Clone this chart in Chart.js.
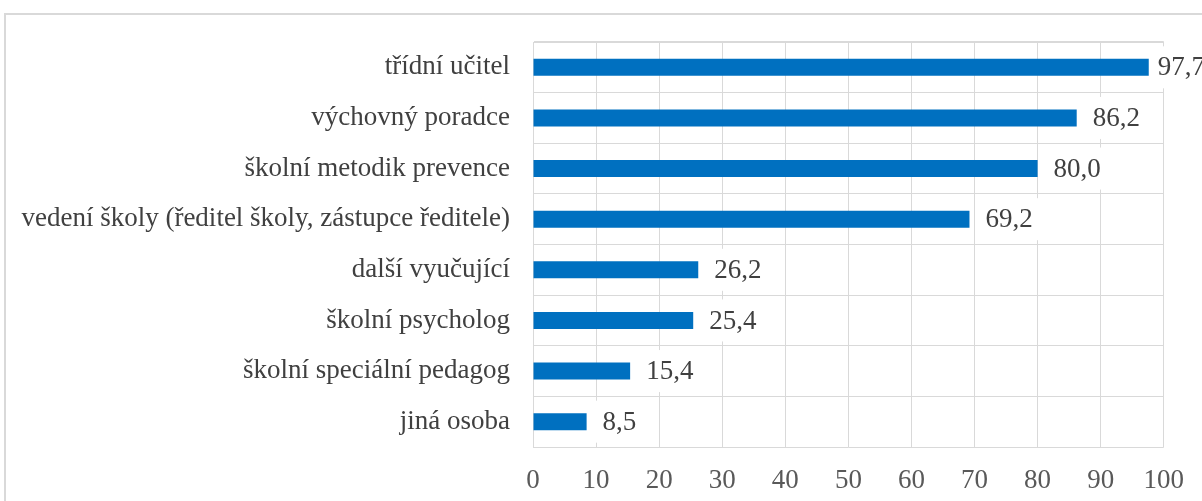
<!DOCTYPE html>
<html>
<head>
<meta charset="utf-8">
<script src="https://cdn.jsdelivr.net/npm/chart.js@4/dist/chart.umd.min.js"></script>
<style>
  html, body { margin: 0; padding: 0; background: #fff; overflow: hidden; }
  #frame { position: absolute; left: 4px; top: 13px; width: 1300px; height: 600px; border: 2px solid #d9d9d9; }
  #wrap { position: absolute; left: 0; top: 0; width: 1202px; height: 501px; }
</style>
</head>
<body>
<div id="frame"></div>
<div id="wrap"><canvas id="chart"></canvas></div>
<script>
var categories = [
    'třídní učitel',
    'výchovný poradce',
    'školní metodik prevence',
    'vedení školy (ředitel školy, zástupce ředitele)',
    'další vyučující',
    'školní psycholog',
    'školní speciální pedagog',
    'jiná osoba'
];
var values = [97.7, 86.2, 80.0, 69.2, 26.2, 25.4, 15.4, 8.5];
var tickValues = [0, 10, 20, 30, 40, 50, 60, 70, 80, 90, 100];

function formatValue(v) {
    return v.toFixed(1).replace('.', ',');
}

// value labels on a white box, drawn over the grid
var valueLabels = {
    id: 'valueLabels',
    afterDatasetsDraw: function (chart) {
        var c = chart.ctx;
        var meta = chart.getDatasetMeta(0);
        var limit = chart.chartArea.right - 6;
        c.save();
        c.font = '27px "Liberation Serif"';
        c.textBaseline = 'middle';
        c.textAlign = 'left';
        meta.data.forEach(function (bar, i) {
            var text = formatValue(values[i]);
            var w = c.measureText(text).width;
            var tx = Math.min(bar.x + 16, limit);
            c.fillStyle = '#ffffff';
            c.fillRect(tx - 9, bar.y - 21, w + 18, 42);
            c.fillStyle = '#404040';
            c.fillText(text, tx, bar.y + 1);
        });
        c.restore();
    }
};

var ctx = document.getElementById('chart').getContext('2d');
var chart = new Chart(ctx, {
    type: 'bar',
    data: {
        labels: categories,
        datasets: [{
            data: values,
            backgroundColor: '#0070c0',
            borderWidth: 0,
            categoryPercentage: 1,
            barPercentage: 0.336
        }]
    },
    options: {
        indexAxis: 'y',
        responsive: true,
        maintainAspectRatio: false,
        animation: false,
        layout: { padding: { left: 0, top: 42, right: 38, bottom: 0 } },
        plugins: {
            legend: { display: false },
            tooltip: { enabled: false }
        },
        scales: {
            x: {
                min: 0,
                max: 100,
                afterBuildTicks: function (scale) {
                    scale.ticks = tickValues.map(function (v) { return { value: v }; });
                },
                afterFit: function (scale) { scale.height = 54; },
                grid: {
                    color: '#d9d9d9',
                    lineWidth: 1,
                    drawTicks: false
                },
                border: { display: false },
                ticks: {
                    color: '#595959',
                    padding: 18,
                    maxRotation: 0,
                    font: { family: 'Liberation Serif', size: 27 }
                }
            },
            y: {
                afterFit: function (scale) { scale.width = 533; },
                grid: {
                    color: '#d9d9d9',
                    lineWidth: function (c) {
                        return (c.index === 0 || c.index === categories.length) ? 2 : 1;
                    },
                    drawTicks: false
                },
                border: { color: '#d9d9d9', width: 1 },
                ticks: {
                    color: '#404040',
                    padding: 23,
                    font: { family: 'Liberation Serif', size: 27 }
                }
            }
        }
    },
    plugins: [valueLabels]
});
</script>
</body>
</html>
